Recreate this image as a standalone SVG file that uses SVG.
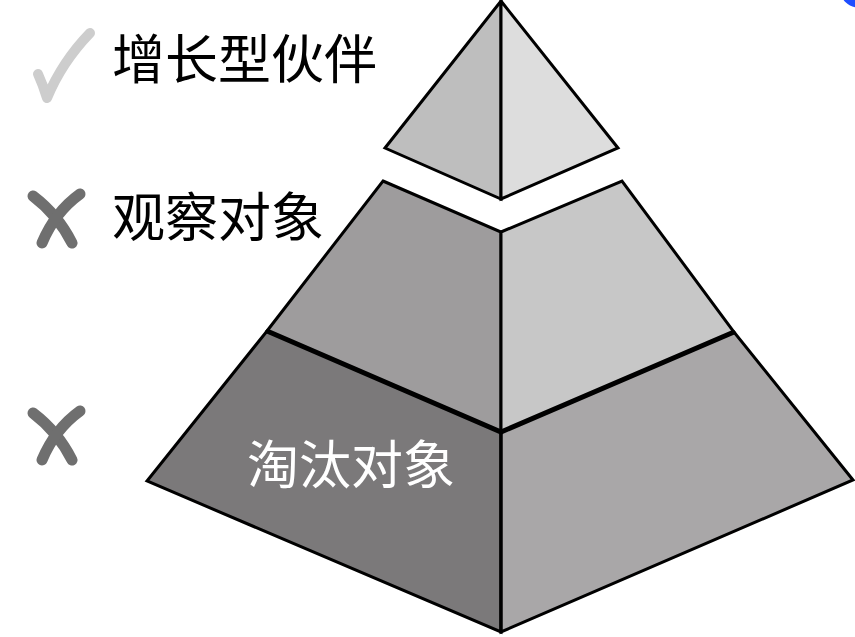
<svg xmlns="http://www.w3.org/2000/svg" width="855" height="637" viewBox="0 0 855 637">
<style>
.face{stroke:#000;stroke-width:3;stroke-linejoin:miter}
.lbl{font-family:"Noto Sans CJK SC","Noto Sans",sans-serif;font-size:53px}
.x{fill:none;stroke:#6f6f6f;stroke-width:11;stroke-linecap:round}
</style>
<rect width="855" height="637" fill="#fff"/>
<g id="tier-bottom">
<polygon class="face" points="147,481 267,331 501,432 501,632" fill="#7b797a"/>
<polygon class="face" points="501,432 734,332 853,480 501,632" fill="#a9a7a8"/>
<line x1="501" y1="432" x2="501" y2="632" stroke="#000" stroke-width="3"/>
<text class="lbl" x="247" y="484" fill="#fff" style="font-size:52px">淘汰对象</text>
</g>
<g id="tier-middle">
<polygon class="face" points="383,181 501,232 501,432 267,331" fill="#9e9c9d"/>
<polygon class="face" points="501,232 622,181 734,332 501,432" fill="#c7c7c7"/>
<polyline points="267,331 501,432 734,332" fill="none" stroke="#000" stroke-width="5"/>
</g>
<g id="tier-top">
<polygon class="face" points="501,1 501,199 385,148" fill="#bebebe"/>
<polygon class="face" points="501,1 618,148 501,199" fill="#dddddd"/>
</g>
<g id="legend">
<g id="item-growth">
<path d="M38,74 Q43,85 47,98 Q62,62 90,33" fill="none" stroke="#cdcdcd" stroke-width="10" stroke-linecap="round" stroke-linejoin="round"/>
<text class="lbl" x="112" y="79" fill="#000">增长型伙伴</text>
</g>
<g id="item-watch">
<path class="x" d="M33,196 Q58,215 72,243"/>
<path class="x" d="M80,194 Q55,212 42,243"/>
<text class="lbl" x="112" y="237" fill="#000">观察对象</text>
</g>
<g id="item-eliminate">
<path class="x" d="M33,413 Q58,432 72,460"/>
<path class="x" d="M80,411 Q55,429 42,460"/>
</g>
</g>
<circle cx="858" cy="-10" r="20" fill="#1e4dff" stroke="#fff" stroke-width="5"/>
</svg>
